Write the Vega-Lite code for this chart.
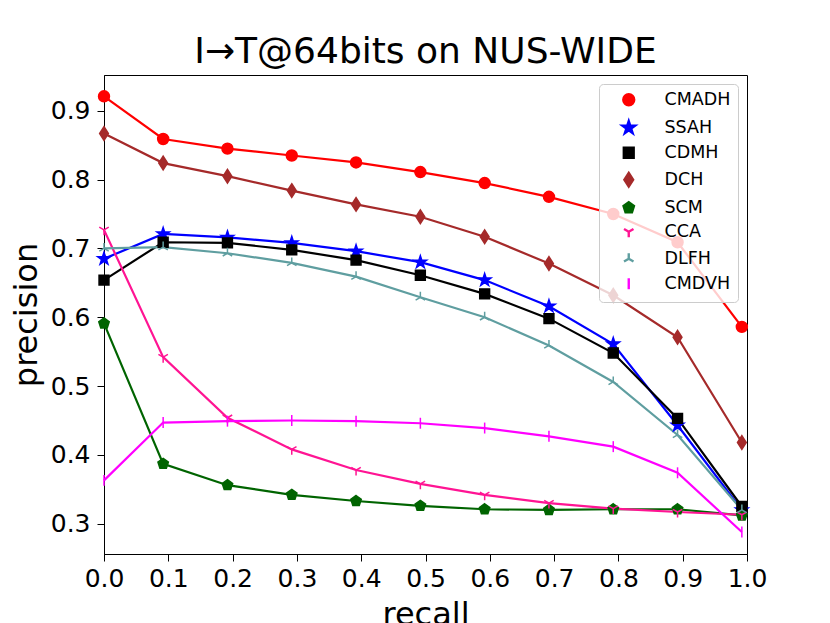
{
  "$schema": "https://vega.github.io/schema/vega-lite/v6.json",
  "width": 643,
  "height": 479,
  "autosize": {"type": "none"},
  "padding": {"left": 104, "top": 75, "right": 83, "bottom": 69},
  "background": "white",
  "title": {
    "text": "I→T@64bits on NUS-WIDE",
    "font": "DejaVu Sans",
    "fontSize": 36,
    "fontWeight": "normal",
    "color": "#000",
    "anchor": "middle",
    "frame": "group",
    "baseline": "alphabetic",
    "offset": 10,
    "dy": 34
  },
  "config": {
    "view": {"stroke": "#000", "strokeWidth": 1},
    "axis": {
      "labelFont": "DejaVu Sans",
      "titleFont": "DejaVu Sans",
      "labelFontSize": 25,
      "titleFontSize": 32,
      "titleFontWeight": "normal",
      "labelColor": "#000",
      "titleColor": "#000",
      "domainColor": "#000",
      "tickColor": "#000",
      "tickSize": 7,
      "grid": false,
      "labelFlush": false,
      "labelOverlap": false
    },
    "legend": {
      "labelFont": "DejaVu Sans",
      "labelFontSize": 17.5,
      "labelColor": "#000"
    }
  },
  "data": {
    "values": [
      {"method": "CMADH", "recall": 0.0, "precision": 0.921},
      {"method": "CMADH", "recall": 0.092, "precision": 0.859},
      {"method": "CMADH", "recall": 0.192, "precision": 0.845},
      {"method": "CMADH", "recall": 0.292, "precision": 0.835},
      {"method": "CMADH", "recall": 0.392, "precision": 0.825},
      {"method": "CMADH", "recall": 0.492, "precision": 0.811},
      {"method": "CMADH", "recall": 0.592, "precision": 0.795},
      {"method": "CMADH", "recall": 0.692, "precision": 0.775},
      {"method": "CMADH", "recall": 0.792, "precision": 0.750},
      {"method": "CMADH", "recall": 0.892, "precision": 0.709},
      {"method": "CMADH", "recall": 0.992, "precision": 0.586},
      {"method": "SSAH", "recall": 0.0, "precision": 0.685},
      {"method": "SSAH", "recall": 0.092, "precision": 0.721},
      {"method": "SSAH", "recall": 0.192, "precision": 0.716},
      {"method": "SSAH", "recall": 0.292, "precision": 0.708},
      {"method": "SSAH", "recall": 0.392, "precision": 0.696},
      {"method": "SSAH", "recall": 0.492, "precision": 0.680},
      {"method": "SSAH", "recall": 0.592, "precision": 0.654},
      {"method": "SSAH", "recall": 0.692, "precision": 0.616},
      {"method": "SSAH", "recall": 0.792, "precision": 0.561},
      {"method": "SSAH", "recall": 0.892, "precision": 0.443},
      {"method": "SSAH", "recall": 0.992, "precision": 0.320},
      {"method": "CDMH", "recall": 0.0, "precision": 0.654},
      {"method": "CDMH", "recall": 0.092, "precision": 0.709},
      {"method": "CDMH", "recall": 0.192, "precision": 0.708},
      {"method": "CDMH", "recall": 0.292, "precision": 0.698},
      {"method": "CDMH", "recall": 0.392, "precision": 0.683},
      {"method": "CDMH", "recall": 0.492, "precision": 0.661},
      {"method": "CDMH", "recall": 0.592, "precision": 0.634},
      {"method": "CDMH", "recall": 0.692, "precision": 0.598},
      {"method": "CDMH", "recall": 0.792, "precision": 0.548},
      {"method": "CDMH", "recall": 0.892, "precision": 0.453},
      {"method": "CDMH", "recall": 0.992, "precision": 0.325},
      {"method": "DCH", "recall": 0.0, "precision": 0.867},
      {"method": "DCH", "recall": 0.092, "precision": 0.824},
      {"method": "DCH", "recall": 0.192, "precision": 0.805},
      {"method": "DCH", "recall": 0.292, "precision": 0.784},
      {"method": "DCH", "recall": 0.392, "precision": 0.764},
      {"method": "DCH", "recall": 0.492, "precision": 0.746},
      {"method": "DCH", "recall": 0.592, "precision": 0.717},
      {"method": "DCH", "recall": 0.692, "precision": 0.678},
      {"method": "DCH", "recall": 0.792, "precision": 0.632},
      {"method": "DCH", "recall": 0.892, "precision": 0.571},
      {"method": "DCH", "recall": 0.992, "precision": 0.418},
      {"method": "SCM", "recall": 0.0, "precision": 0.591},
      {"method": "SCM", "recall": 0.092, "precision": 0.387},
      {"method": "SCM", "recall": 0.192, "precision": 0.356},
      {"method": "SCM", "recall": 0.292, "precision": 0.342},
      {"method": "SCM", "recall": 0.392, "precision": 0.333},
      {"method": "SCM", "recall": 0.492, "precision": 0.326},
      {"method": "SCM", "recall": 0.592, "precision": 0.321},
      {"method": "SCM", "recall": 0.692, "precision": 0.320},
      {"method": "SCM", "recall": 0.792, "precision": 0.321},
      {"method": "SCM", "recall": 0.892, "precision": 0.321},
      {"method": "SCM", "recall": 0.992, "precision": 0.312},
      {"method": "CCA", "recall": 0.0, "precision": 0.727},
      {"method": "CCA", "recall": 0.092, "precision": 0.542},
      {"method": "CCA", "recall": 0.192, "precision": 0.454},
      {"method": "CCA", "recall": 0.292, "precision": 0.408},
      {"method": "CCA", "recall": 0.392, "precision": 0.378},
      {"method": "CCA", "recall": 0.492, "precision": 0.358},
      {"method": "CCA", "recall": 0.592, "precision": 0.342},
      {"method": "CCA", "recall": 0.692, "precision": 0.330},
      {"method": "CCA", "recall": 0.792, "precision": 0.322},
      {"method": "CCA", "recall": 0.892, "precision": 0.317},
      {"method": "CCA", "recall": 0.992, "precision": 0.313},
      {"method": "DLFH", "recall": 0.0, "precision": 0.700},
      {"method": "DLFH", "recall": 0.092, "precision": 0.702},
      {"method": "DLFH", "recall": 0.192, "precision": 0.693},
      {"method": "DLFH", "recall": 0.292, "precision": 0.679},
      {"method": "DLFH", "recall": 0.392, "precision": 0.659},
      {"method": "DLFH", "recall": 0.492, "precision": 0.629},
      {"method": "DLFH", "recall": 0.592, "precision": 0.600},
      {"method": "DLFH", "recall": 0.692, "precision": 0.559},
      {"method": "DLFH", "recall": 0.792, "precision": 0.506},
      {"method": "DLFH", "recall": 0.892, "precision": 0.429},
      {"method": "DLFH", "recall": 0.992, "precision": 0.320},
      {"method": "CMDVH", "recall": 0.0, "precision": 0.363},
      {"method": "CMDVH", "recall": 0.092, "precision": 0.447},
      {"method": "CMDVH", "recall": 0.192, "precision": 0.449},
      {"method": "CMDVH", "recall": 0.292, "precision": 0.450},
      {"method": "CMDVH", "recall": 0.392, "precision": 0.449},
      {"method": "CMDVH", "recall": 0.492, "precision": 0.446},
      {"method": "CMDVH", "recall": 0.592, "precision": 0.439},
      {"method": "CMDVH", "recall": 0.692, "precision": 0.427},
      {"method": "CMDVH", "recall": 0.792, "precision": 0.412},
      {"method": "CMDVH", "recall": 0.892, "precision": 0.374},
      {"method": "CMDVH", "recall": 0.992, "precision": 0.288}
    ]
  },
  "encoding": {
    "x": {
      "field": "recall",
      "type": "quantitative",
      "title": "recall",
      "scale": {"domain": [0, 1], "nice": false, "zero": false},
      "axis": {"values": [0, 0.1, 0.2, 0.3, 0.4, 0.5, 0.6, 0.7, 0.8, 0.9, 1.0], "format": ".1f", "labelPadding": 5, "titlePadding": 8}
    },
    "y": {
      "field": "precision",
      "type": "quantitative",
      "title": "precision",
      "scale": {"domain": [0.256, 0.952], "nice": false, "zero": false},
      "axis": {"values": [0.3, 0.4, 0.5, 0.6, 0.7, 0.8, 0.9], "format": ".1f", "labelPadding": 7, "titlePadding": 7}
    }
  },
  "layer": [
    {
      "mark": {"type": "line", "strokeWidth": 2.2, "clip": false},
      "encoding": {
        "color": {
          "field": "method",
          "type": "nominal",
          "title": null,
          "scale": {
            "domain": ["CMADH", "SSAH", "CDMH", "DCH", "SCM", "CCA", "DLFH", "CMDVH"],
            "range": ["#ff0000", "#0000ff", "#000000", "#a52a2a", "#006400", "#ff1493", "#5f9ea0", "#ff00ff"]
          },
          "legend": {
            "orient": "top-right",
            "offset": 9,
            "padding": 7,
            "symbolSize": 120,
            "symbolStrokeWidth": 2.4,
            "symbolOffset": 14,
            "labelOffset": 27,
            "rowPadding": 5,
            "strokeColor": "#cccccc",
            "fillColor": "rgba(255,255,255,0.8)",
            "cornerRadius": 4,
            "encode": {
              "symbols": {
                "update": {
                  "shape": {"signal": "scale('shape', datum.value) + 'M-3.45,0L3.45,0'"},
                  "fill": {"signal": "scale('color', datum.value)"},
                  "stroke": {"signal": "scale('color', datum.value)"},
                  "strokeWidth": {"value": 2.4},
                  "opacity": {"value": 1}
                }
              }
            }
          }
        }
      }
    },
    {
      "mark": {"type": "point", "filled": true, "opacity": 1, "size": 120, "strokeWidth": 1.5, "clip": false},
      "encoding": {
        "color": {"field": "method", "type": "nominal", "title": null},
        "stroke": {
          "field": "method",
          "type": "nominal",
          "title": null,
          "legend": null,
          "scale": {
            "domain": ["CMADH", "SSAH", "CDMH", "DCH", "SCM", "CCA", "DLFH", "CMDVH"],
            "range": ["#ff0000", "#0000ff", "#000000", "#a52a2a", "#006400", "#ff1493", "#5f9ea0", "#ff00ff"]
          }
        },
        "shape": {
          "field": "method",
          "type": "nominal",
          "title": null,
          "legend": null,
          "scale": {
            "domain": ["CMADH", "SSAH", "CDMH", "DCH", "SCM", "CCA", "DLFH", "CMDVH"],
            "range": [
              "M1,0A1,1,0,1,1,-1,0A1,1,0,1,1,1,0Z",
              "M0,-1.2L0.27,-0.37L1.14,-0.37L0.44,0.14L0.71,0.97L0,0.46L-0.71,0.97L-0.44,0.14L-1.14,-0.37L-0.27,-0.37Z",
              "M-0.9,-0.9L0.9,-0.9L0.9,0.9L-0.9,0.9Z",
              "M0,-1.25L0.8,0L0,1.25L-0.8,0Z",
              "M0,-1L0.951,-0.309L0.588,0.809L-0.588,0.809L-0.951,-0.309Z",
              "M0,0L0,1M0,0L-0.866,-0.5M0,0L0.866,-0.5",
              "M0,0L0,-1M0,0L-0.866,0.5M0,0L0.866,0.5",
              "M0,-1L0,1"
            ]
          }
        }
      }
    }
  ]
}
